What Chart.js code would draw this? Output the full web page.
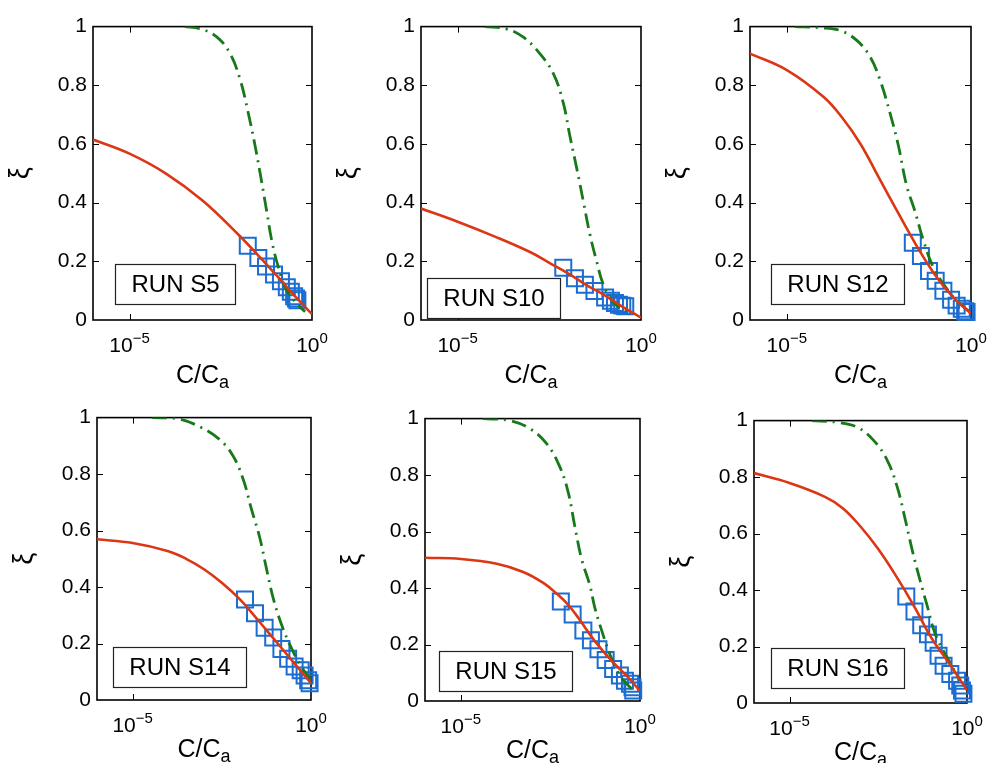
<!DOCTYPE html>
<html>
<head>
<meta charset="utf-8">
<script src="https://cdn.jsdelivr.net/npm/chart.js@4.4.1/dist/chart.umd.min.js"></script>
<style>
  html, body { margin: 0; padding: 0; background: #fff; overflow: hidden; }
  body { width: 994px; height: 763px; position: relative; }
  canvas { position: absolute; }
</style>
</head>
<body>
<canvas id="s5"></canvas>
<canvas id="s10"></canvas>
<canvas id="s12"></canvas>
<canvas id="s14"></canvas>
<canvas id="s15"></canvas>
<canvas id="s16"></canvas>
<script>
// ---- data: C/Ca (x) against xi (y) for each run ----
// fit = solid red model curve, limit = dash-dot green curve, obs = measured squares

const s5FitC = [1e-6, 1e-5, 1e-4, 1e-3, 1e-2, 3.16e-2, 1e-1, 3.16e-1, 1];
const s5FitXi = [0.615, 0.567, 0.499, 0.407, 0.289, 0.224, 0.156, 0.086, 0.02];
const s5LimitC = [3.31e-4, 8.51e-4, 2.45e-3, 5.62e-3, 1.07e-2, 1.78e-2, 2.75e-2, 4.17e-2, 5.75e-2, 7.94e-2, 1.20e-1, 2.04e-1, 4.68e-1, 6.46e-1];
const s5LimitXi = [1.0, 0.993, 0.965, 0.909, 0.82, 0.707, 0.595, 0.471, 0.37, 0.269, 0.18, 0.10, 0.045, 0.028];
const s5ObsC = [1.74e-2, 3.39e-2, 5.50e-2, 9.12e-2, 1.41e-1, 2.04e-1, 2.63e-1, 3.24e-1, 3.63e-1, 3.98e-1];
const s5ObsXi = [0.253, 0.211, 0.182, 0.155, 0.132, 0.112, 0.096, 0.081, 0.073, 0.067];

const s10FitC = [1e-6, 1e-5, 1e-4, 1e-3, 3.16e-3, 1e-2, 3.16e-2, 1e-1, 3.16e-1, 1];
const s10FitXi = [0.38, 0.335, 0.285, 0.23, 0.195, 0.16, 0.12, 0.085, 0.045, 0.008];
const s10LimitC = [5.50e-5, 2.14e-4, 6.17e-4, 1.74e-3, 4.07e-3, 7.59e-3, 1.15e-2, 1.78e-2, 2.69e-2, 4.07e-2, 6.17e-2, 9.33e-2, 1.78e-1, 5.01e-1];
const s10LimitXi = [1.0, 0.992, 0.964, 0.908, 0.84, 0.74, 0.627, 0.515, 0.403, 0.29, 0.2, 0.122, 0.06, 0.021];
const s10ObsC = [7.59e-3, 1.58e-2, 2.95e-2, 5.37e-2, 1.05e-1, 1.51e-1, 1.95e-1, 2.51e-1, 3.09e-1, 3.72e-1];
const s10ObsXi = [0.178, 0.142, 0.12, 0.099, 0.077, 0.066, 0.058, 0.052, 0.049, 0.047];

const s12FitC = [1e-6, 1e-5, 1e-4, 3.16e-4, 1e-3, 3.16e-3, 1e-2, 3.16e-2, 1e-1, 3.16e-1, 1];
const s12FitXi = [0.908, 0.852, 0.76, 0.69, 0.6, 0.485, 0.37, 0.258, 0.158, 0.08, 0.022];
const s12LimitC = [1.66e-5, 7.94e-5, 2.75e-4, 7.94e-4, 1.82e-3, 3.39e-3, 6.31e-3, 1.07e-2, 1.78e-2, 3.02e-2, 5.13e-2, 9.55e-2, 1.78e-1, 4.07e-1, 9.33e-1];
const s12LimitXi = [1.0, 0.996, 0.987, 0.953, 0.897, 0.818, 0.706, 0.594, 0.459, 0.37, 0.27, 0.178, 0.123, 0.066, 0.027];
const s12ObsC = [2.63e-2, 4.37e-2, 7.24e-2, 1.10e-1, 1.78e-1, 2.88e-1, 4.07e-1, 5.62e-1, 6.92e-1, 7.59e-1];
const s12ObsXi = [0.263, 0.218, 0.167, 0.134, 0.10, 0.069, 0.049, 0.038, 0.030, 0.027];

const s14FitC = [1e-6, 1e-5, 1e-4, 3.16e-4, 1e-3, 3.16e-3, 1e-2, 3.16e-2, 1e-1, 3.16e-1, 1];
const s14FitXi = [0.569, 0.556, 0.527, 0.5, 0.463, 0.415, 0.357, 0.285, 0.21, 0.135, 0.06];
const s14LimitC = [3.47e-5, 1.74e-4, 7.76e-4, 2.82e-3, 6.61e-3, 1.26e-2, 2.14e-2, 3.72e-2, 5.62e-2, 8.71e-2, 1.48e-1, 2.51e-1, 4.79e-1, 1];
const s14LimitXi = [1.0, 0.997, 0.967, 0.921, 0.863, 0.781, 0.676, 0.571, 0.466, 0.361, 0.268, 0.198, 0.128, 0.07];
const s14ObsC = [1.41e-2, 2.69e-2, 5.01e-2, 8.71e-2, 1.48e-1, 2.29e-1, 3.47e-1, 5.13e-1, 6.61e-1, 8.32e-1, 9.12e-1];
const s14ObsXi = [0.356, 0.307, 0.256, 0.221, 0.181, 0.146, 0.119, 0.105, 0.087, 0.07, 0.059];

const s15FitC = [1e-6, 1e-5, 1e-4, 5.50e-4, 2.00e-3, 5.25e-3, 1e-2, 1.91e-2, 5.50e-2, 1.62e-1, 4.68e-1, 1];
const s15FitXi = [0.507, 0.503, 0.486, 0.457, 0.418, 0.375, 0.34, 0.294, 0.212, 0.142, 0.084, 0.035];
const s15LimitC = [4.17e-5, 2.34e-4, 8.51e-4, 2.45e-3, 5.75e-3, 1e-2, 1.51e-2, 2.34e-2, 3.98e-2, 5.50e-2, 8.51e-2, 1.45e-1, 2.75e-1, 6.46e-1];
const s15LimitXi = [1.0, 0.993, 0.964, 0.912, 0.83, 0.737, 0.62, 0.503, 0.41, 0.33, 0.25, 0.165, 0.09, 0.037];
const s15ObsC = [6.17e-3, 1.32e-2, 2.63e-2, 4.27e-2, 6.92e-2, 1.10e-1, 1.78e-1, 2.75e-1, 3.80e-1, 5.25e-1, 6.17e-1, 6.46e-1];
const s15ObsXi = [0.352, 0.306, 0.25, 0.215, 0.183, 0.145, 0.113, 0.09, 0.072, 0.061, 0.049, 0.037];

const s16FitC = [1e-6, 1e-5, 1e-4, 3.16e-4, 1e-3, 3.16e-3, 1e-2, 3.16e-2, 1e-1, 3.16e-1, 1];
const s16FitXi = [0.814, 0.779, 0.73, 0.69, 0.625, 0.545, 0.45, 0.345, 0.23, 0.14, 0.045];
const s16LimitC = [4.27e-5, 2.19e-4, 7.94e-4, 2.34e-3, 5.62e-3, 1.07e-2, 1.82e-2, 2.82e-2, 4.37e-2, 7.41e-2, 1.29e-1, 2.75e-1, 6.46e-1];
const s16LimitXi = [1.0, 0.994, 0.977, 0.93, 0.86, 0.767, 0.65, 0.545, 0.452, 0.348, 0.243, 0.161, 0.079];
const s16ObsC = [1.95e-2, 3.31e-2, 5.13e-2, 7.94e-2, 1.15e-1, 1.58e-1, 2.19e-1, 3.39e-1, 5.25e-1, 6.46e-1, 7.24e-1, 7.94e-1];
const s16ObsXi = [0.377, 0.324, 0.275, 0.243, 0.213, 0.167, 0.132, 0.103, 0.079, 0.062, 0.044, 0.033];

// axis ticks
const xTicks = [1e-5, 1];
const yTicks = [0, 0.2, 0.4, 0.6, 0.8, 1];

// ---- look ----
const FONT = '"Liberation Sans", Arial, Helvetica, sans-serif';
const RED = '#dc3714';
const GREEN = '#17791a';
const BLUE = '#1b6dd2';
const TICK_LEN = 6;

// plot box in page pixels [left, top, right, bottom], tag = top-left corner of the run label (data units)
const panels = [
    { id: 's5',  run: 'RUN S5',  box: [93, 23, 312, 320],  tag: [3.98e-6, 0.191], xLabelGap: 63,
      fit: [s5FitC, s5FitXi], limit: [s5LimitC, s5LimitXi], obs: [s5ObsC, s5ObsXi] },
    { id: 's10', run: 'RUN S10', box: [421, 23, 641, 320], tag: [1.48e-6, 0.144], xLabelGap: 63,
      fit: [s10FitC, s10FitXi], limit: [s10LimitC, s10LimitXi], obs: [s10ObsC, s10ObsXi] },
    { id: 's12', run: 'RUN S12', box: [750, 23, 971, 320], tag: [3.72e-6, 0.192], xLabelGap: 63,
      fit: [s12FitC, s12FitXi], limit: [s12LimitC, s12LimitXi], obs: [s12ObsC, s12ObsXi] },
    { id: 's14', run: 'RUN S14', box: [97, 414, 311, 700],  tag: [2.75e-6, 0.186], xLabelGap: 57,
      fit: [s14FitC, s14FitXi], limit: [s14LimitC, s14LimitXi], obs: [s14ObsC, s14ObsXi] },
    { id: 's15', run: 'RUN S15', box: [425, 415, 640, 701], tag: [2.45e-6, 0.177], xLabelGap: 57,
      fit: [s15FitC, s15FitXi], limit: [s15LimitC, s15LimitXi], obs: [s15ObsC, s15ObsXi] },
    { id: 's16', run: 'RUN S16', box: [754, 417, 967, 703], tag: [3.09e-6, 0.196], xLabelGap: 57,
      fit: [s16FitC, s16FitXi], limit: [s16LimitC, s16LimitXi], obs: [s16ObsC, s16ObsXi] }
];

// space kept round the plot box inside each canvas
const PAD_LEFT = 90, PAD_TOP = 15, PAD_RIGHT = 20, PAD_BOTTOM = 70;

function toPoints(xs, ys) {
    return xs.map((x, i) => ({ x: x, y: ys[i] }));
}

function exponentText(n) {
    return n < 0 ? '\u2212' + Math.abs(n) : String(n);
}

// frame, inward ticks, power-of-ten labels, axis titles and run label
const axesBox = {
    id: 'axesBox',
    beforeDatasetsDraw(chart) {
        const { ctx, chartArea: a, scales: { x, y } } = chart;
        ctx.save();
        ctx.strokeStyle = '#000';
        ctx.lineWidth = 1;
        ctx.beginPath();
        yTicks.forEach(v => {
            if (v <= 0 || v >= 1) return;
            const py = Math.round(y.getPixelForValue(v)) + 0.5;
            ctx.moveTo(a.left, py); ctx.lineTo(a.left + TICK_LEN, py);
            ctx.moveTo(a.right, py); ctx.lineTo(a.right - TICK_LEN, py);
        });
        xTicks.forEach(v => {
            const px = Math.round(x.getPixelForValue(v)) + 0.5;
            if (px <= a.left + 1 || px >= a.right - 1) return;
            ctx.moveTo(px, a.bottom); ctx.lineTo(px, a.bottom - TICK_LEN);
            ctx.moveTo(px, a.top); ctx.lineTo(px, a.top + TICK_LEN);
        });
        ctx.stroke();
        ctx.lineWidth = 1.6;
        ctx.strokeRect(a.left, a.top, a.right - a.left, a.bottom - a.top);
        ctx.restore();
    },
    afterDatasetsDraw(chart, args, opts) {
        const { ctx, chartArea: a, scales: { x, y } } = chart;
        ctx.save();

        // run label in a framed box
        ctx.font = '24px ' + FONT;
        const tw = ctx.measureText(opts.run).width;
        const bx = Math.round(x.getPixelForValue(opts.tag[0])) + 0.5;
        const by = Math.round(y.getPixelForValue(opts.tag[1])) + 0.5;
        const bw = Math.round(tw + 32), bh = 40;
        ctx.fillStyle = '#fff';
        ctx.fillRect(bx, by, bw, bh);
        ctx.strokeStyle = '#222';
        ctx.lineWidth = 1.2;
        ctx.strokeRect(bx, by, bw, bh);
        ctx.fillStyle = '#000';
        ctx.textAlign = 'center';
        ctx.textBaseline = 'middle';
        ctx.fillText(opts.run, bx + bw / 2, by + bh / 2 + 1);

        // x tick labels as 10^n
        ctx.textAlign = 'left';
        ctx.textBaseline = 'alphabetic';
        xTicks.forEach(v => {
            const cx = x.getPixelForValue(v);
            const expText = exponentText(Math.round(Math.log10(v)));
            ctx.font = '21px ' + FONT;
            const wb = ctx.measureText('10').width;
            ctx.font = '15px ' + FONT;
            const we = ctx.measureText(expText).width;
            const x0 = cx - (wb + we) / 2;
            const base = a.bottom + 32;
            ctx.font = '21px ' + FONT;
            ctx.fillText('10', x0, base);
            ctx.font = '15px ' + FONT;
            ctx.fillText(expText, x0 + wb, base - 9);
        });

        // x title C/Ca with subscript
        ctx.font = '25px ' + FONT;
        const w1 = ctx.measureText('C/C').width;
        ctx.font = '18px ' + FONT;
        const w2 = ctx.measureText('a').width;
        const tx = (a.left + a.right) / 2 - (w1 + w2) / 2;
        const tb = a.bottom + opts.xLabelGap;
        ctx.font = '25px ' + FONT;
        ctx.fillText('C/C', tx, tb);
        ctx.font = '18px ' + FONT;
        ctx.fillText('a', tx + w1, tb + 5);

        // y title
        ctx.translate(a.left - 72, (a.top + a.bottom) / 2);
        ctx.rotate(-Math.PI / 2);
        ctx.font = '27px ' + FONT;
        ctx.textAlign = 'center';
        ctx.textBaseline = 'middle';
        ctx.fillText('\u03be', 0, 0);
        ctx.restore();
    }
};

function buildPanel(p) {
    const canvas = document.getElementById(p.id);
    const [l, t, r, b] = p.box;
    canvas.width = (r - l) + PAD_LEFT + PAD_RIGHT;
    canvas.height = (b - t) + PAD_TOP + PAD_BOTTOM;
    canvas.style.left = (l - PAD_LEFT) + 'px';
    canvas.style.top = (t - PAD_TOP) + 'px';

    new Chart(canvas, {
        type: 'scatter',
        data: {
            datasets: [
                {
                    label: 'fit',
                    data: toPoints(p.fit[0], p.fit[1]),
                    showLine: true,
                    borderColor: RED,
                    borderWidth: 2.6,
                    pointRadius: 0,
                    tension: 0.4
                },
                {
                    label: 'limit',
                    data: toPoints(p.limit[0], p.limit[1]),
                    showLine: true,
                    borderColor: GREEN,
                    borderWidth: 2.8,
                    borderDash: [15, 6, 2, 6],
                    pointRadius: 0,
                    tension: 0.4
                },
                {
                    label: 'observed',
                    data: toPoints(p.obs[0], p.obs[1]),
                    showLine: false,
                    pointStyle: 'rect',
                    pointRadius: 11.3,
                    pointBorderWidth: 2,
                    pointBorderColor: BLUE,
                    pointBackgroundColor: 'rgba(0,0,0,0)',
                    clip: false
                }
            ]
        },
        options: {
            responsive: false,
            animation: false,
            events: [],
            devicePixelRatio: 1,
            layout: { padding: { left: 0, top: PAD_TOP, right: PAD_RIGHT, bottom: 0 } },
            plugins: {
                legend: { display: false },
                tooltip: { enabled: false },
                axesBox: { run: p.run, tag: p.tag, xLabelGap: p.xLabelGap }
            },
            scales: {
                x: {
                    type: 'logarithmic',
                    min: 1e-6,
                    max: 1,
                    grid: { display: false, drawTicks: false },
                    border: { display: false },
                    ticks: { display: false },
                    afterFit(scale) { scale.height = PAD_BOTTOM; }
                },
                y: {
                    type: 'linear',
                    min: 0,
                    max: 1,
                    grid: { display: false, drawTicks: false },
                    border: { display: false },
                    afterBuildTicks(scale) { scale.ticks = yTicks.map(v => ({ value: v })); },
                    ticks: {
                        color: '#000',
                        padding: 6,
                        font: { family: FONT, size: 21 },
                        callback: v => String(v)
                    },
                    afterFit(scale) { scale.width = PAD_LEFT; }
                }
            }
        },
        plugins: [axesBox]
    });
}

panels.forEach(buildPanel);
</script>
</body>
</html>
